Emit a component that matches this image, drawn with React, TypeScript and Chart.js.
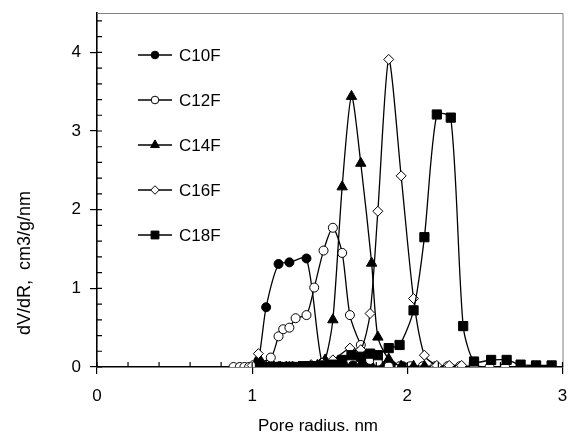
import { useEffect, useRef } from "react";
import { Chart, registerables } from "chart.js";
import { drawPoint } from "chart.js/helpers";

Chart.register(...registerables);

const seriesNames = ["C10F", "C12F", "C14F", "C16F", "C18F"];

const c10fX = [1.0, 1.04, 1.09, 1.17, 1.24, 1.35, 1.45, 1.52, 1.59, 1.65, 1.71, 1.77, 1.83, 1.9, 1.97];
const c10fY = [0.0, 0.08, 0.76, 1.31, 1.33, 1.38, 0.05, 0.02, 0.02, 0.02, 0.03, 0.02, 0.02, 0.02, 0.01];

const c12fX = [0.88, 0.92, 0.95, 0.98, 1.12, 1.17, 1.2, 1.24, 1.28, 1.35, 1.4, 1.46, 1.52, 1.58, 1.63, 1.7, 1.76, 1.81, 1.88, 1.95, 2.02, 2.1, 2.18, 2.26, 2.34, 2.43, 2.53, 2.63];
const c12fY = [0.0, 0.0, 0.0, 0.0, 0.12, 0.39, 0.48, 0.5, 0.62, 0.66, 1.01, 1.48, 1.77, 1.45, 0.66, 0.28, 0.09, 0.07, 0.01, 0.01, 0.01, 0.01, 0.01, 0.01, 0.01, 0.01, 0.0, 0.0];

const c14fX = [1.06, 1.1, 1.14, 1.18, 1.22, 1.26, 1.3, 1.34, 1.38, 1.42, 1.47, 1.52, 1.58, 1.64, 1.7, 1.77, 1.81, 1.88, 1.96, 2.04, 2.11];
const c14fY = [0.0, 0.0, 0.0, 0.0, 0.0, 0.0, 0.0, 0.0, 0.01, 0.02, 0.09, 0.6, 2.29, 3.44, 2.59, 1.32, 0.38, 0.1, 0.01, 0.01, 0.01];

const c16fX = [1.0, 1.04, 1.1, 1.17, 1.24, 1.31, 1.38, 1.45, 1.52, 1.63, 1.7, 1.76, 1.81, 1.88, 1.96, 2.04, 2.11, 2.19, 2.27, 2.35];
const c16fY = [0.02, 0.17, 0.02, 0.01, 0.01, 0.01, 0.03, 0.05, 0.09, 0.24, 0.22, 0.68, 1.98, 3.91, 2.43, 0.87, 0.15, 0.02, 0.02, 0.02];

const c18fX = [1.05, 1.09, 1.13, 1.17, 1.21, 1.25, 1.29, 1.33, 1.37, 1.41, 1.46, 1.52, 1.58, 1.64, 1.7, 1.76, 1.81, 1.88, 1.95, 2.04, 2.11, 2.19, 2.28, 2.36, 2.43, 2.54, 2.64, 2.73, 2.83, 2.93];
const c18fY = [0.0, 0.0, 0.0, 0.0, 0.0, 0.0, 0.0, 0.01, 0.01, 0.01, 0.02, 0.03, 0.09, 0.15, 0.13, 0.17, 0.15, 0.24, 0.28, 0.72, 1.65, 3.21, 3.17, 0.52, 0.07, 0.09, 0.09, 0.03, 0.02, 0.02];

const xTickValues = [0, 1, 2, 3];
const yTickValues = [0, 1, 2, 3, 4];

const FONT = "'Liberation Sans', Arial, sans-serif";

const markerStyles = [
  { pointStyle: "circle", radius: 4.5, fill: "#000" },
  { pointStyle: "circle", radius: 4.5, fill: "#fff" },
  { pointStyle: "triangle", radius: 6, fill: "#000" },
  { pointStyle: "rectRot", radius: 5, fill: "#fff" },
  { pointStyle: "rect", radius: 6.5, fill: "#000" },
];

const xs = [c10fX, c12fX, c14fX, c16fX, c18fX];
const ys = [c10fY, c12fY, c14fY, c16fY, c18fY];

const decorPlugin = {
  id: "decor",
  afterDraw(chart: any) {
    const { ctx, chartArea, scales } = chart;
    const xS = scales.x;
    const yS = scales.y;
    ctx.save();
    // gray frame top/right
    ctx.strokeStyle = "#808080";
    ctx.lineWidth = 1;
    ctx.beginPath();
    ctx.moveTo(chartArea.left, chartArea.top + 0.5);
    ctx.lineTo(chartArea.right + 0.5, chartArea.top + 0.5);
    ctx.lineTo(chartArea.right + 0.5, chartArea.bottom);
    ctx.stroke();
    // ticks inward
    ctx.strokeStyle = "#000";
    ctx.lineWidth = 1.2;
    ctx.beginPath();
    for (let i = 0; i <= 15; i++) {
      const px = xS.getPixelForValue(i * 0.2);
      ctx.moveTo(px, chartArea.bottom);
      ctx.lineTo(px, chartArea.bottom - 5);
    }
    for (let i = 0; i <= 22; i++) {
      const py = yS.getPixelForValue(i * 0.2);
      ctx.moveTo(chartArea.left, py);
      ctx.lineTo(chartArea.left + 5, py);
    }
    ctx.stroke();
    // axis titles
    ctx.fillStyle = "#000";
    ctx.font = `17px ${FONT}`;
    ctx.textAlign = "center";
    ctx.textBaseline = "middle";
    ctx.fillText("Pore radius. nm", 318, 426);
    ctx.save();
    ctx.font = `18px ${FONT}`;
    ctx.translate(25, 335);
    ctx.rotate(-Math.PI / 2);
    ctx.textAlign = "left";
    ctx.fillText("dV/dR,  cm3/g/nm", 0, 0);
    ctx.restore();
    // legend
    ctx.textAlign = "left";
    seriesNames.forEach((name, i) => {
      const ly = 55 + i * 45;
      ctx.strokeStyle = "#000";
      ctx.lineWidth = 1.3;
      ctx.beginPath();
      ctx.moveTo(138, ly);
      ctx.lineTo(172, ly);
      ctx.stroke();
      const m = markerStyles[i];
      ctx.fillStyle = m.fill;
      ctx.strokeStyle = "#000";
      ctx.lineWidth = 1;
      drawPoint(ctx, { pointStyle: m.pointStyle, radius: m.radius * 0.85, rotation: 0, borderWidth: 1 } as any, 155, ly);
      ctx.fillStyle = "#000";
      ctx.fillText(name, 179, ly + 1);
    });
    ctx.restore();
  },
};

export default function App() {
  const ref = useRef<HTMLCanvasElement | null>(null);
  useEffect(() => {
    if (!ref.current) return;
    const datasets = seriesNames.map((name, i) => ({
      label: name,
      data: xs[i].map((x, j) => ({ x, y: ys[i][j] })),
      borderColor: "#000",
      borderWidth: 1.3,
      tension: 0.25,
      pointStyle: markerStyles[i].pointStyle as any,
      pointRadius: markerStyles[i].radius,
      pointBackgroundColor: markerStyles[i].fill,
      pointBorderColor: "#000",
      pointBorderWidth: 1,
      showLine: true,
      fill: false,
      order: seriesNames.length - i,
    }));
    const chart = new Chart(ref.current, {
      type: "scatter",
      data: { datasets },
      options: {
        animation: false,
        responsive: false,
        layout: { padding: { top: 13, right: 7, left: 0, bottom: 0 } },
        plugins: { legend: { display: false }, tooltip: { enabled: false } },
        scales: {
          x: {
            type: "linear",
            min: 0,
            max: 3,
            afterBuildTicks: (s: any) => {
              s.ticks = xTickValues.map((v) => ({ value: v }));
            },
            afterFit: (s: any) => {
              s.height = 69;
              s.paddingLeft = 0;
              s.paddingRight = 0;
            },
            ticks: { color: "#000", font: { size: 17, family: FONT }, padding: 12, callback: (v: any) => String(v) },
            grid: { drawOnChartArea: false, drawTicks: true, tickLength: 7, color: "#000", lineWidth: 1.2 },
            border: { display: true, color: "#000", width: 1.6 },
          },
          y: {
            type: "linear",
            min: 0,
            max: 4.5,
            afterBuildTicks: (s: any) => {
              s.ticks = yTickValues.map((v) => ({ value: v }));
            },
            afterFit: (s: any) => {
              s.width = 97;
              s.paddingTop = 0;
              s.paddingBottom = 0;
            },
            ticks: { color: "#000", font: { size: 17, family: FONT }, padding: 9, callback: (v: any) => String(v) },
            grid: { drawOnChartArea: false, drawTicks: true, tickLength: 7, color: "#000", lineWidth: 1.2 },
            border: { display: true, color: "#000", width: 1.6 },
          },
        },
      },
      plugins: [decorPlugin],
    });
    return () => chart.destroy();
  }, []);
  return (
    <div style={{ position: "absolute", left: 0, top: 0, width: 570, height: 436, background: "#fff" }}>
      <canvas ref={ref} width={570} height={436} style={{ display: "block" }} />
    </div>
  );
}
